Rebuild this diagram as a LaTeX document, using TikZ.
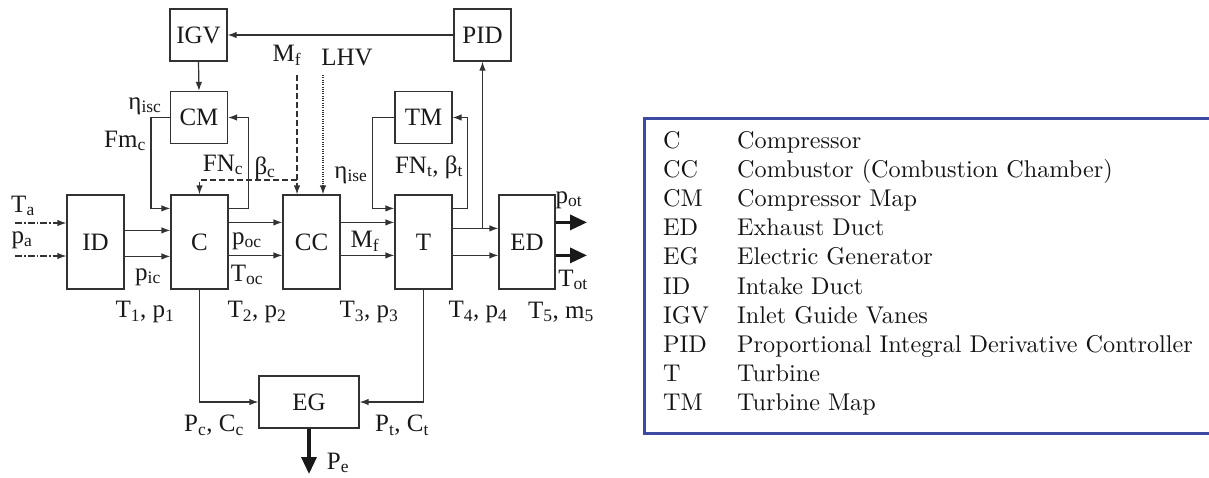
\documentclass[tikz,border=0pt]{standalone}
\usepackage{fontspec}
\newfontfamily\tms{Liberation Serif}
\newfontfamily\lmten{lmroman10-regular}[Extension=.otf]
\usetikzlibrary{arrows.meta}
\definecolor{lc}{RGB}{50,50,50}
\definecolor{legblue}{RGB}{60,74,160}
\tikzset{
  blk/.style={draw=lc, line width=1.2pt, minimum width=57pt, minimum height=52pt, inner sep=0pt,
    font=\tms\fontsize{25}{30}\selectfont, text=black!90},
  tall/.style={blk, minimum height=94pt},
  lbl/.style={inner sep=0pt, font=\tms\fontsize{25}{30}\selectfont, text=black!90},
  con/.style={draw=lc, line width=1.2pt, -{Latex[length=9pt,width=6.5pt]}},
  big/.style={draw=black!90, line width=3.4pt, -{Triangle[length=17pt,width=15pt]}},
  inp/.style={con, dash pattern=on 7pt off 2pt on 1.5pt off 2pt},
  dsh/.style={con, dash pattern=on 6pt off 3pt},
  dot/.style={con, dash pattern=on 1pt off 1.3pt},
  leg/.style={inner sep=0pt, font=\lmten\fontsize{24.2}{29}\selectfont, text=black!92},
}
\begin{document}
\begin{tikzpicture}[x=1pt,y=-1pt]
\useasboundingbox (0,0) rectangle (1209,477);
% blocks
\node[blk] (IGV) at (198.5,35) {IGV};
\node[blk] (CM) at (199,117.5) {CM};
\node[blk] (PID) at (482.5,35) {PID};
\node[blk] (TM) at (423.5,117.5) {TM};
\node[tall] (ID) at (95.5,242) {ID};
\node[tall] (C) at (199.5,242) {C};
\node[tall] (CC) at (311.5,242) {CC};
\node[tall] (T) at (423.5,242) {T};
\node[tall, minimum width=56pt] (ED) at (527,242) {ED};
\node[blk, minimum width=100pt] (EG) at (309,402) {EG};
% control connectors
\draw[con] (PID.west) -- (IGV.east);
\draw[con] (IGV.south) -- (CM.north);
\coordinate (cin) at ([yshift=-14pt]C.north west);
\coordinate (cout) at ([yshift=-14pt]C.north east);
\draw[con] (CM.west) -- ++(-19,0) |- (cin);
\draw[con] (cout) -- ++(20,0) |- (CM.east);
\coordinate (tin) at ([yshift=-14pt]T.north west);
\coordinate (tout) at ([yshift=-14pt]T.north east);
\draw[con] (TM.west) -- ++(-22,0) |- (tin);
\draw[con] (tout) -- ++(15,0) |- (TM.east);
% fuel and LHV
\coordinate (mf) at (297,75);
\coordinate (br) at (297,180);
\coordinate (lhv) at (323,75);
\draw[dsh] (mf) -- (mf |- CC.north);
\draw[dsh] (br) -| (C.north);
\draw[dot] (lhv) -- (lhv |- CC.north);
% inputs
\coordinate (ta) at (15,223);
\coordinate (pa) at (15,256);
\draw[inp] (ta) -- (ta -| ID.west);
\draw[inp] (pa) -- (pa -| ID.west);
% main flow
\coordinate (i1) at ([yshift=-36pt]ID.north east);
\coordinate (i2) at ([yshift=-62pt]ID.north east);
\draw[con] (i1) -- (i1 -| C.west);
\draw[con] (i2) -- (i2 -| C.west);
\coordinate (c1) at ([yshift=-28pt]C.north east);
\coordinate (c2) at ([yshift=-61pt]C.north east);
\draw[con] (c1) -- (c1 -| CC.west);
\draw[con] (c2) -- (c2 -| CC.west);
\coordinate (b1) at ([yshift=-28pt]CC.north east);
\coordinate (b2) at ([yshift=-61pt]CC.north east);
\draw[con] (b1) -- (b1 -| T.west);
\draw[con] (b2) -- (b2 -| T.west);
\coordinate (t1) at ([yshift=-34pt]T.north east);
\coordinate (t2) at ([yshift=-61pt]T.north east);
\draw[con] (t1) -- (t1 -| ED.west);
\draw[con] (t2) -- (t2 -| ED.west);
\draw[con] (t1 -| PID.south) -- (PID.south);
% outputs
\coordinate (e1) at ([yshift=-28pt]ED.north east);
\coordinate (e2) at ([yshift=-61pt]ED.north east);
\coordinate (pot) at (587,0);
\draw[big] (e1) -- (e1 -| pot);
\draw[big] (e2) -- (e2 -| pot);
\draw[con] (C.south) |- (EG.west);
\draw[con] (T.south) |- (EG.east);
\coordinate (pe) at (309,474);
\draw[big] (EG.south) -- (pe);
% labels
\node[lbl] (lTa) at (23,206) {T\textsubscript{a}};
\node[lbl] (lpa) at (22,240) {p\textsubscript{a}};
\node[lbl] (lisc) at (145,106) {η\textsubscript{isc}};
\node[lbl] (lFm) at (125,141) {Fm\textsubscript{c}};
\node[lbl] (lFNc) at (223,165) {FN\textsubscript{c}};
\node[lbl] (lbc) at (265,168) {β\textsubscript{c}};
\node[lbl] (lMf) at (287,55) {M\textsubscript{f}};
\node[lbl] (lLHV) at (347,58) {LHV};
\node[lbl] (lise) at (351,175) {η\textsubscript{ise}};
\node[lbl] (lFNt) at (429,167) {FN\textsubscript{t}, β\textsubscript{t}};
\node[lbl] (lpoc) at (247,241) {p\textsubscript{oc}};
\node[lbl] (lToc) at (247,275) {T\textsubscript{oc}};
\node[lbl] (lpic) at (148,277) {p\textsubscript{ic}};
\node[lbl] (lMf2) at (365,241) {M\textsubscript{f}};
\node[lbl] (l1) at (145,312) {T\textsubscript{1}, p\textsubscript{1}};
\node[lbl] (l2) at (257,312) {T\textsubscript{2}, p\textsubscript{2}};
\node[lbl] (l3) at (369,312) {T\textsubscript{3}, p\textsubscript{3}};
\node[lbl] (l4) at (478,312) {T\textsubscript{4}, p\textsubscript{4}};
\node[lbl] (l5) at (561,312) {T\textsubscript{5}, m\textsubscript{5}};
\node[lbl] (lpot) at (569,200) {p\textsubscript{ot}};
\node[lbl] (lTot) at (573,280) {T\textsubscript{ot}};
\node[lbl] (lPc) at (214,425) {P\textsubscript{c}, C\textsubscript{c}};
\node[lbl] (lPt) at (402,425) {P\textsubscript{t}, C\textsubscript{t}};
\node[lbl] (lPe) at (338,463) {P\textsubscript{e}};
% legend
\draw[legblue, line width=3pt] (1209,118) -- (644,118) -- (644,433) -- (1209,433);
\foreach \a/\d [count=\i from 0] in {C/Compressor, CC/Combustor (Combustion Chamber), CM/Compressor Map,
  ED/Exhaust Duct, EG/Electric Generator, ID/Intake Duct, IGV/Inlet Guide Vanes,
  PID/Proportional Integral Derivative Controller, T/Turbine, TM/Turbine Map} {
  \node[leg, anchor=base west] (la\i) at (663,{148+29.2*\i}) {\a};
  \node[leg, anchor=base west] (ld\i) at (737,{148+29.2*\i}) {\d};
}
\end{tikzpicture}
\end{document}
